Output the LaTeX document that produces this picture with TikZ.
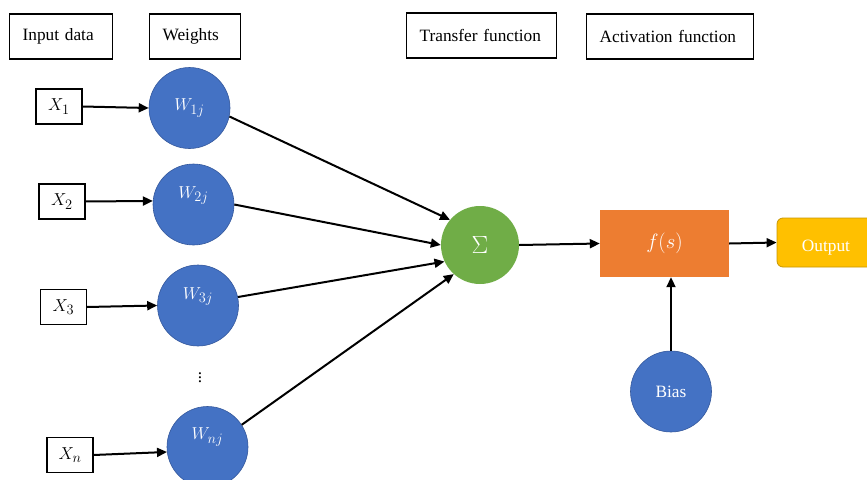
\documentclass[tikz,border=0pt]{standalone}
\usepackage{fontspec}
\setmainfont{Liberation Serif}
\usepackage{tikz}
\usetikzlibrary{arrows.meta,positioning,shapes.geometric}
\definecolor{wblue}{RGB}{68,114,196}
\definecolor{wborder}{RGB}{52,88,156}
\definecolor{sgreen}{RGB}{112,173,71}
\definecolor{forange}{RGB}{237,125,49}
\definecolor{ogold}{RGB}{255,192,0}
\definecolor{oborder}{RGB}{200,150,0}
\newcommand{\mathsz}{\fontsize{19}{22}\selectfont}

\begin{document}
\begin{tikzpicture}[
    x=1pt, y=-1pt,
    font=\fontsize{17.3}{20}\selectfont,
    headbox/.style={rectangle, draw=black, line width=1.2pt, inner xsep=13pt, minimum height=45pt, align=left, anchor=west},
    inbox/.style={rectangle, draw=black, line width=1.1pt, minimum width=46pt, minimum height=35pt, inner sep=0pt, font=\mathsz},
    wnode/.style={circle, fill=wblue, draw=wborder, line width=0.6pt, minimum size=81pt, inner sep=0pt, text=white},
    wtext/.style={text=white, inner sep=0pt, font=\mathsz},
    sumnode/.style={circle, fill=sgreen, minimum size=78pt, inner sep=0pt, text=white},
    actbox/.style={rectangle, fill=forange, minimum width=129pt, minimum height=67pt, text=white},
    outbox/.style={rectangle, fill=ogold, draw=oborder, line width=0.8pt, rounded corners=6pt, minimum width=98pt, minimum height=49pt, text=white},
    arrow/.style={-{Triangle[length=10pt,width=9pt]}, line width=2pt, draw=black}
]
\clip (0,0) rectangle (867,479);

% headings
\node[headbox, text width=77pt] (hin) at (9,36.5) {Input data};
\node[headbox, text width=65pt] (hw) at (149,36.5) {Weights};
\node[headbox, text width=124pt] (htr) at (406,35.5) {Transfer function};
\node[headbox, text width=141pt] (hact) at (586,36.5) {Activation function};

% inputs and weights
\node[inbox] (x1) at (59,106.5) {$X_1$};
\node[inbox] (x2) at (62,201.5) {$X_2$};
\node[inbox] (x3) at (63.5,307) {$X_3$};
\node[inbox] (xn) at (70,455) {$X_n$};

\node[wnode, label={[wtext]center:$W_{1j}$}] (w1) at (189.5,108) {};
\node[wnode, label={[wtext,yshift=9pt]center:$W_{2j}$}] (w2) at (193.5,204.5) {};
\node[wnode, label={[wtext,yshift=9pt]center:$W_{3j}$}] (w3) at (198,305.5) {};
\node[wnode, label={[wtext,yshift=10pt]center:$W_{nj}$}] (wn) at (207.5,447) {};
\node (dots) at (200,375) {$\vdots$};

% sum, activation, output
\node[sumnode] (sum) at (480,245) {\fontsize{25}{28}\selectfont$\Sigma$};
\node[actbox] (f) at (664.5,243.5) {\fontsize{21}{24}\selectfont$f(s)$};
\node[outbox, label={[text=white,inner sep=0pt,yshift=-5pt]center:Output}] (out) at (826,242.5) {};
\node[wnode] (bias) at (671,391.5) {Bias};

\draw[arrow] (x1.east) -- (w1.west);
\draw[arrow] (x2.east) -- (w2.175);
\draw[arrow] (x3.east) -- (w3.west);
\draw[arrow] (xn.east) -- (wn.187);

\draw[arrow] (w1.-12) -- (sum.140);
\draw[arrow] (w2.east) -- (sum.west);
\draw[arrow] (w3.12) -- (sum.205);
\draw[arrow] (wn.33) -- (sum.228);

\draw[arrow] (sum.east) -- (f.west);
\draw[arrow] (f.east) -- (out.west);
\draw[arrow] (bias.north) -- (bias.north |- f.south);
\end{tikzpicture}
\end{document}
